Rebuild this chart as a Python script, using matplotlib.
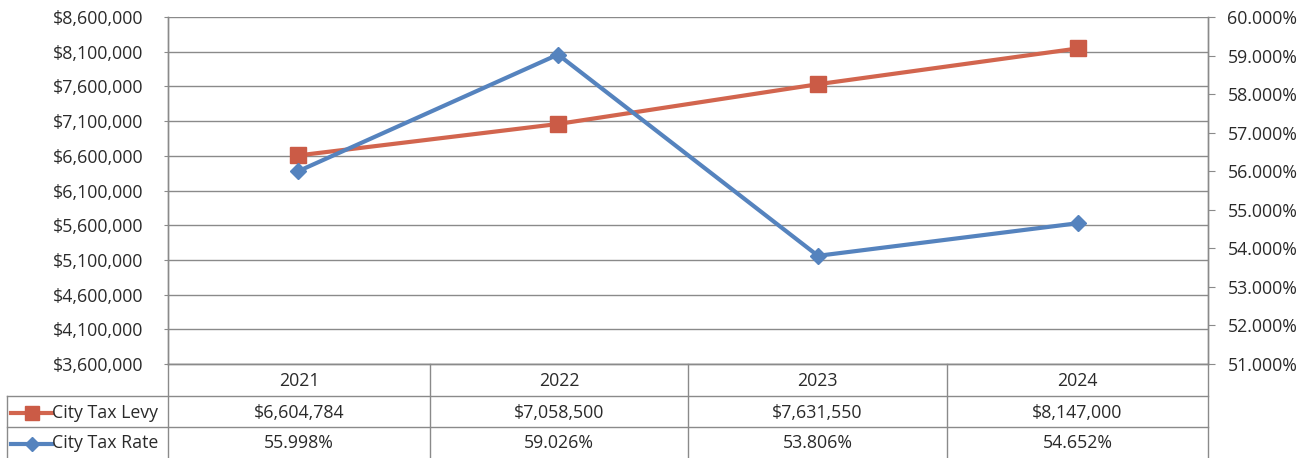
import matplotlib
matplotlib.use("Agg")
import matplotlib.pyplot as plt
from matplotlib.lines import Line2D
import numpy as np

years = ["2021", "2022", "2023", "2024"]
levy = [6604784, 7058500, 7631550, 8147000]
rate = [55.998, 59.026, 53.806, 54.652]
levy_labels = ["$6,604,784", "$7,058,500", "$7,631,550", "$8,147,000"]
rate_labels = ["55.998%", "59.026%", "53.806%", "54.652%"]
series_names = ["City Tax Levy", "City Tax Rate"]

RED = "#D2654E"
RED_MK = "#CB5B46"
BLUE = "#5583BE"
GRID = "#8A8A8A"
TXT = "#2A2A2A"
FONT = "Open Sans"
FS = 12.8

W, H = 1312, 458
fig = plt.figure(figsize=(W / 100, H / 100), dpi=100)
fig.patch.set_facecolor("white")


def fx(px):
    return px / W


def fy(py):
    return 1 - py / H


L, R, T, B = 168, 1208, 17, 364
ax = fig.add_axes([fx(L), fy(B), (R - L) / W, (B - T) / H])
ax2 = ax.twinx()

x = np.arange(len(years))
ax.set_xlim(-0.5, len(years) - 0.5)
ax.set_ylim(3600000, 8600000)
ax.set_yticks(np.arange(3600000, 8600001, 500000))
ax.set_yticklabels([f"${v:,.0f}" for v in np.arange(3600000, 8600001, 500000)],
                   fontfamily=FONT, fontsize=FS, color=TXT)
ax.set_xticks([])
ax.grid(axis="y", color=GRID, lw=1)
ax.set_axisbelow(True)

ax2.set_ylim(51, 60)
ax2.set_yticks(np.arange(51, 60.01, 1))
ax2.set_yticklabels([f"{v:.3f}%" for v in np.arange(51, 60.01, 1)],
                    fontfamily=FONT, fontsize=FS, color=TXT)

for a in (ax, ax2):
    for s in a.spines.values():
        s.set_color(GRID)
        s.set_linewidth(1)
    a.spines["top"].set_visible(False)
ax.tick_params(axis="y", length=3, color=GRID, pad=15)
ax2.tick_params(axis="y", length=5, color=GRID, pad=9)

ax.plot(x, levy, color=RED, lw=3, marker="s", ms=11.5, mfc=RED_MK, mec=RED_MK,
        zorder=3)
ax2.plot(x, rate, color=BLUE, lw=3, marker="D", ms=8.5, mfc=BLUE, mec=BLUE,
         zorder=3)

# data table drawn beneath the plot area
rows_y = [364, 396, 427, 458]
col_x = [L, 430, 688, 947, R]
line_kw = dict(color=GRID, lw=1, transform=fig.transFigure)
fig.add_artist(Line2D([fx(7), fx(R)], [fy(396)] * 2, **line_kw))
fig.add_artist(Line2D([fx(7), fx(R)], [fy(427)] * 2, **line_kw))
fig.add_artist(Line2D([fx(7), fx(7)], [fy(396), fy(458)], **line_kw))
for cx in col_x:
    fig.add_artist(Line2D([fx(cx), fx(cx)], [fy(364), fy(458)], **line_kw))

centers = [(col_x[i] + col_x[i + 1]) / 2 for i in range(len(years))]
row_c = [(rows_y[i] + rows_y[i + 1]) / 2 + 1 for i in range(3)]
for i, c in enumerate(centers):
    fig.text(fx(c), fy(row_c[0]), years[i], ha="center", va="center",
             fontfamily=FONT, fontsize=FS, color=TXT)
    fig.text(fx(c), fy(row_c[1]), levy_labels[i], ha="center", va="center",
             fontfamily=FONT, fontsize=FS, color=TXT)
    fig.text(fx(c), fy(row_c[2]), rate_labels[i], ha="center", va="center",
             fontfamily=FONT, fontsize=FS, color=TXT)

# legend keys in the row headers
for r, (col, mcol, mk, ms, name) in enumerate(
        [(RED, RED_MK, "s", 9.5, series_names[0]),
         (BLUE, BLUE, "D", 7.5, series_names[1])]):
    yy = fy(row_c[r + 1])
    fig.add_artist(Line2D([fx(11), fx(52)], [yy, yy], color=col, lw=3,
                          transform=fig.transFigure))
    fig.add_artist(Line2D([fx(32)], [yy], color=mcol, marker=mk, ms=ms,
                          mfc=mcol, mec=mcol, transform=fig.transFigure))
    fig.text(fx(52), yy, name, ha="left", va="center",
             fontfamily=FONT, fontsize=FS, color=TXT)

fig.savefig("out.png", dpi=100, facecolor="white")
